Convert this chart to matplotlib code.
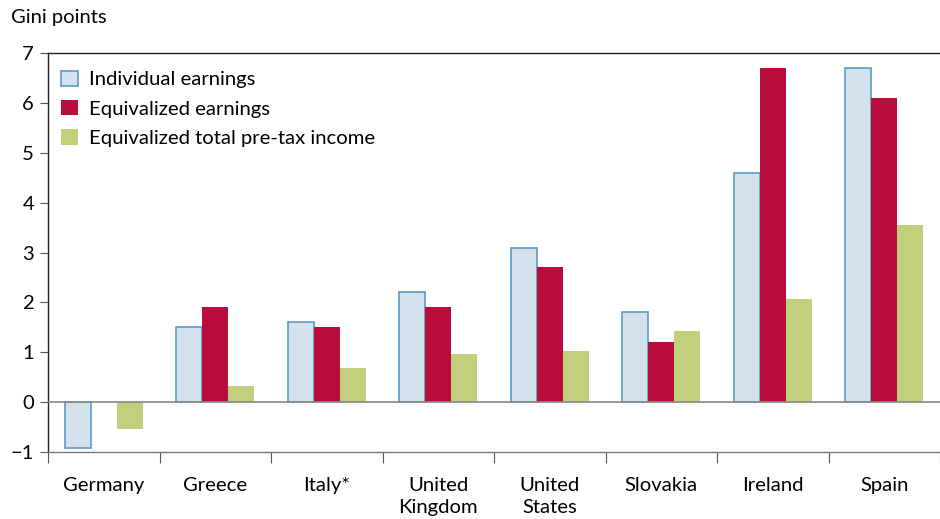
import matplotlib
matplotlib.use("Agg")
import matplotlib.pyplot as plt
import numpy as np
from matplotlib.patches import Patch

plt.rcParams['font.family'] = ['Lato', 'DejaVu Sans']

countries = ["Germany", "Greece", "Italy*", "United\nKingdom", "United\nStates",
             "Slovakia", "Ireland", "Spain"]
individual = [-0.92, 1.5, 1.6, 2.2, 3.1, 1.8, 4.6, 6.7]
equiv_earn = [np.nan, 1.9, 1.5, 1.9, 2.7, 1.2, 6.7, 6.1]
equiv_total = [-0.53, 0.32, 0.68, 0.96, 1.03, 1.43, 2.07, 3.55]
series_names = ["Individual earnings", "Equivalized earnings", "Equivalized total pre-tax income"]
yticks = [-1, 0, 1, 2, 3, 4, 5, 6, 7]

c_blue_face = "#d3e1ec"
c_blue_edge = "#5a9cc6"
c_red = "#b80c3c"
c_green = "#c2cf7c"

FS = 14.6

fig = plt.figure(figsize=(9.4, 5.19), dpi=100)
ax = fig.add_axes([48/940, 67/519, 892/940, 399/519])

x = np.arange(len(countries))
w = 0.232
ax.bar(x - w, individual, w, color=c_blue_face, edgecolor=c_blue_edge, linewidth=1.2, zorder=2)
ax.bar(x, equiv_earn, w, color=c_red, edgecolor="none", zorder=2)
ax.bar(x + w, equiv_total, w, color=c_green, edgecolor="none", zorder=2)

ax.set_ylim(-1, 7)
ax.set_xlim(-0.5, -0.5 + 892/112.7)
ax.axhline(0, color="#888888", linewidth=1.2, zorder=3)

ax.spines["right"].set_visible(False)
ax.spines["top"].set_color("#222222")
ax.spines["left"].set_color("#222222")
ax.spines["bottom"].set_color("#777777")
for s in ["top", "left", "bottom"]:
    ax.spines[s].set_linewidth(1.0)

ax.set_yticks(yticks)
ax.set_yticklabels(["\u2212" + str(abs(v)) if v < 0 else str(v) for v in yticks], fontsize=FS)
ax.tick_params(axis="y", length=6, color="#555555", pad=4)

ax.set_xticks(np.arange(len(countries) + 1) - 0.5)
ax.set_xticklabels([])
ax.tick_params(axis="x", which="major", length=8, color="#555555", direction="out")
ax.set_xticks(x, minor=True)
ax.set_xticklabels(countries, minor=True, fontsize=FS, linespacing=1.35)
ax.tick_params(axis="x", which="minor", length=0, pad=18)
for lbl in ax.get_xticklabels(minor=True):
    lbl.set_verticalalignment("top")

fig.text(11/940, 1 - 18/519, "Gini points", fontsize=FS, va="center", ha="left")

handles = [Patch(facecolor=c_blue_face, edgecolor=c_blue_edge, linewidth=1.2),
           Patch(facecolor=c_red, edgecolor="none"),
           Patch(facecolor=c_green, edgecolor="none")]
ax.legend(handles, series_names, loc="upper left", bbox_to_anchor=(0.006, 0.976),
          frameon=False, fontsize=FS, handlelength=0.8, handleheight=0.8,
          handletextpad=0.55, labelspacing=0.56, borderaxespad=0)

fig.savefig("out.png", dpi=100)
